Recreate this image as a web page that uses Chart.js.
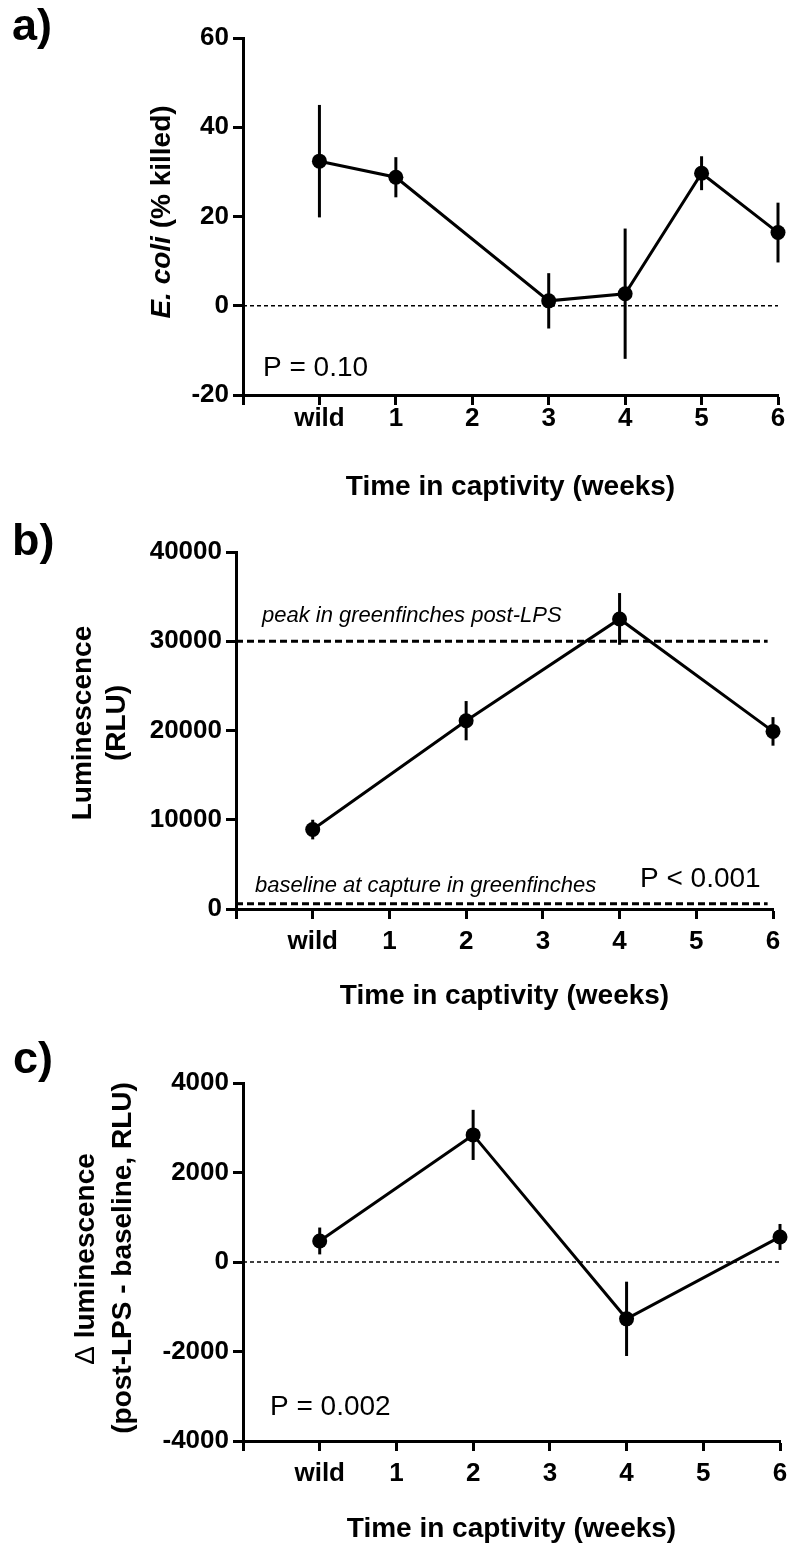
<!DOCTYPE html>
<html>
<head>
<meta charset="utf-8">
<script src="https://cdn.jsdelivr.net/npm/chart.js@4.4.0/dist/chart.umd.min.js"></script>
<style>
  html, body { margin: 0; padding: 0; background: #fff; }
  body { width: 790px; height: 1544px; position: relative; overflow: hidden; }
  canvas { position: absolute; left: 0; }
</style>
</head>
<body>
<canvas id="chartA" width="790" height="510" style="top:0px"></canvas>
<canvas id="chartB" width="790" height="520" style="top:500px"></canvas>
<canvas id="chartC" width="790" height="524" style="top:1020px"></canvas>
<script>
const FONT = '"Liberation Sans", Arial, Helvetica, sans-serif';

// x axis: 0 stands for "wild", -1 is the empty start of the axis
const weekTicks = [-1, 0, 1, 2, 3, 4, 5, 6];
const weekLabels = ['', 'wild', '1', '2', '3', '4', '5', '6'];

// a) E. coli killed (%)
const weeksA = [0, 1, 3, 4, 5, 6];
const killedA = [32.4, 28.8, 1.1, 2.7, 29.7, 16.4];
const semA = [12.6, 4.5, 6.2, 14.6, 3.8, 6.7];
const ticksA = [-20, 0, 20, 40, 60];

// b) luminescence (RLU)
const weeksB = [0, 2, 4, 6];
const lumB = [8900, 21100, 32500, 19900];
const semB = [1100, 2200, 2900, 1600];
const ticksB = [0, 10000, 20000, 30000, 40000];
const peakLPS = 30000;
const baselineCapture = 600;

// c) delta luminescence (RLU)
const weeksC = [0, 2, 4, 6];
const deltaC = [470, 2840, -1270, 560];
const semC = [300, 560, 830, 290];
const ticksC = [-4000, -2000, 0, 2000, 4000];

function drawText(c, x, y, parts, rotate) {
  // parts: [[text, font], ...] drawn as one centred (rotated) or left-aligned line
  c.save();
  c.fillStyle = '#000';
  c.textBaseline = 'alphabetic';
  c.textAlign = 'left';
  let total = 0;
  parts.forEach(p => { c.font = p[1]; total += c.measureText(p[0]).width; });
  c.translate(x, y);
  let pos = 0;
  if (rotate) { c.rotate(-Math.PI / 2); pos = -total / 2; }
  parts.forEach(p => {
    c.font = p[1];
    c.fillText(p[0], pos, 0);
    pos += c.measureText(p[0]).width;
  });
  c.restore();
}

function extrasPlugin(ex, canvasTop) {
  return {
    id: 'extras',
    beforeDatasetsDraw(chart) {
      const c = chart.ctx, xs = chart.scales.x, ys = chart.scales.y;
      ex.refLines.forEach(r => {
        const y = ys.getPixelForValue(r.value);
        c.save();
        c.strokeStyle = '#000';
        c.lineWidth = r.width;
        c.setLineDash(r.dash);
        c.beginPath();
        c.moveTo(xs.getPixelForValue(-1), y);
        c.lineTo(xs.getPixelForValue(r.to), y);
        c.stroke();
        c.restore();
      });
    },
    afterDatasetsDraw(chart) {
      const c = chart.ctx, xs = chart.scales.x, ys = chart.scales.y;
      c.save();
      c.strokeStyle = '#000';
      c.lineWidth = 3;
      ex.xs.forEach((xv, i) => {
        const px = xs.getPixelForValue(xv);
        c.beginPath();
        c.moveTo(px, ys.getPixelForValue(ex.ys[i] + ex.err[i]));
        c.lineTo(px, ys.getPixelForValue(ex.ys[i] - ex.err[i]));
        c.stroke();
      });
      c.restore();
    },
    afterDraw(chart) {
      ex.texts.forEach(t => drawText(chart.ctx, t.x, t.y - canvasTop, t.parts, t.rotate));
    }
  };
}

function panel(id, box, xv, yv, err, yTicks, ex) {
  const yW = 110;
  const xH = box.titleY - box.B + 16.8;
  const tickFont = { family: FONT, size: 26, weight: 'bold' };
  ex.xs = xv; ex.ys = yv; ex.err = err;
  return new Chart(document.getElementById(id).getContext('2d'), {
    type: 'line',
    data: {
      datasets: [{
        data: xv.map((x, i) => ({ x, y: yv[i] })),
        borderColor: '#000',
        borderWidth: 3,
        pointRadius: 7.5,
        pointBackgroundColor: '#000',
        pointBorderWidth: 0,
        tension: 0,
        clip: false
      }]
    },
    options: {
      responsive: false,
      animation: false,
      events: [],
      layout: {
        padding: {
          left: box.L - yW,
          right: 790 - box.R,
          top: box.T - box.top,
          bottom: box.h - (box.B - box.top) - xH
        }
      },
      plugins: { legend: { display: false }, tooltip: { enabled: false } },
      scales: {
        x: {
          type: 'linear', min: -1, max: 6,
          afterBuildTicks: s => { s.ticks = weekTicks.map(v => ({ value: v })); },
          ticks: {
            callback: v => weekLabels[weekTicks.indexOf(v)],
            font: tickFont, color: '#000', padding: box.xPad, maxRotation: 0, autoSkip: false
          },
          grid: { drawOnChartArea: false, drawTicks: true, tickLength: 10, tickWidth: 3, tickColor: '#000' },
          border: { display: true, width: 3, color: '#000' },
          title: {
            display: true, text: 'Time in captivity (weeks)', color: '#000', padding: 0,
            font: { family: FONT, size: 28, weight: 'bold' }
          },
          afterFit: s => { s.height = xH; s.paddingLeft = 0; s.paddingRight = 0; }
        },
        y: {
          type: 'linear', min: yTicks[0], max: yTicks[yTicks.length - 1],
          afterBuildTicks: s => { s.ticks = yTicks.map(v => ({ value: v })); },
          ticks: { callback: v => String(v), font: tickFont, color: '#000', padding: 4 },
          grid: { drawOnChartArea: false, drawTicks: true, tickLength: 10, tickWidth: 3, tickColor: '#000' },
          border: { display: true, width: 3, color: '#000' },
          afterFit: s => { s.width = yW; s.paddingTop = 0; s.paddingBottom = 0; }
        }
      }
    },
    plugins: [extrasPlugin(ex, box.top)]
  });
}

const bold28 = 'bold 28px ' + FONT;
const plain28 = '28px ' + FONT;
const label45 = 'bold 45px ' + FONT;
const note22 = 'italic 22px ' + FONT;
const dotted = { width: 1.5, dash: [4, 3] };

panel('chartA', { top: 0, h: 510, L: 243, R: 778, T: 38, B: 395, titleY: 487, xPad: -2 },
  weeksA, killedA, semA, ticksA, {
    refLines: [{ value: 0, to: 6, width: dotted.width, dash: dotted.dash }],
    texts: [
      { x: 12, y: 40, parts: [['a)', label45]] },
      { x: 263, y: 376, parts: [['P = 0.10', plain28]] },
      { x: 170, y: 212, rotate: true, parts: [['E. coli', 'italic ' + bold28], [' (% killed)', bold28]] }
    ]
  });

panel('chartB', { top: 500, h: 520, L: 236, R: 773, T: 552, B: 909, titleY: 996, xPad: 7 },
  weeksB, lumB, semB, ticksB, {
    refLines: [
      { value: peakLPS, to: 5.93, width: 3, dash: [7, 4] },
      { value: baselineCapture, to: 5.93, width: 3, dash: [7, 4] }
    ],
    texts: [
      { x: 12, y: 555, parts: [['b)', label45]] },
      { x: 262, y: 622, parts: [['peak in greenfinches post-LPS', note22]] },
      { x: 255, y: 892, parts: [['baseline at capture in greenfinches', note22]] },
      { x: 640, y: 887, parts: [['P < 0.001', plain28]] },
      { x: 91, y: 723, rotate: true, parts: [['Luminescence', bold28]] },
      { x: 125, y: 723, rotate: true, parts: [['(RLU)', bold28]] }
    ]
  });

panel('chartC', { top: 1020, h: 524, L: 243, R: 780, T: 1083, B: 1441, titleY: 1529, xPad: 7 },
  weeksC, deltaC, semC, ticksC, {
    refLines: [{ value: 0, to: 6, width: dotted.width, dash: dotted.dash }],
    texts: [
      { x: 13, y: 1073, parts: [['c)', label45]] },
      { x: 270, y: 1415, parts: [['P = 0.002', plain28]] },
      { x: 94, y: 1259, rotate: true, parts: [['\u0394', plain28], [' luminescence', bold28]] },
      { x: 131, y: 1258, rotate: true, parts: [['(post-LPS - baseline, RLU)', bold28]] }
    ]
  });
</script>
</body>
</html>
